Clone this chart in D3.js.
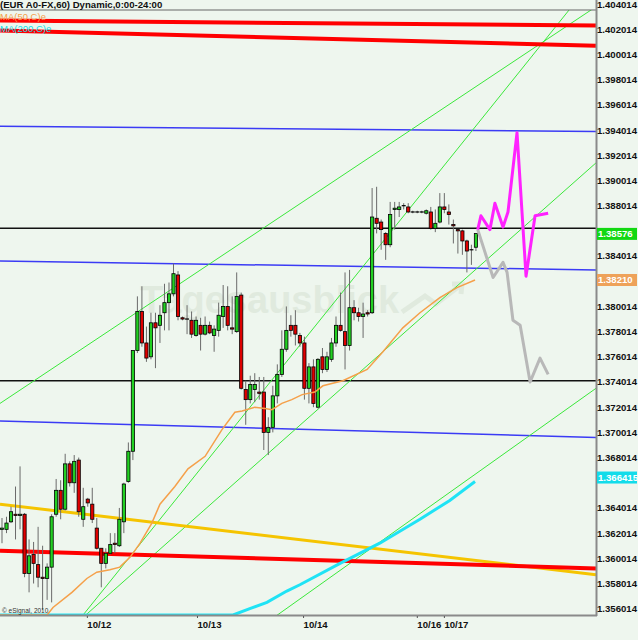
<!DOCTYPE html>
<html>
<head>
<meta charset="utf-8">
<script src="https://cdn.jsdelivr.net/npm/d3@7"></script>
<style>
  body { margin: 0; background: #eef6ee; }
  svg { display: block; font-family: "Liberation Sans", Arial, sans-serif; }
</style>
</head>
<body>
<svg id="chart"></svg>
<script>
// hourly EUR candles
const open  = [1.3623,1.3623,1.3629,1.3635,1.3634,1.3635,1.3588,1.3603,1.3595,1.3585,1.3584,1.3593,1.3635,1.3654,1.3639,1.3675,1.3660,1.3678,1.3631,1.3647,1.3643,1.3624,1.3608,1.3596,1.3604,1.3612,1.3610,1.3629,1.3661,1.3685,1.3765,1.3796,1.3771,1.3760,1.3787,1.3785,1.3795,1.3803,1.3810,1.3825,1.3791,1.3790,1.3789,1.3777,1.3785,1.3778,1.3785,1.3777,1.3781,1.3792,1.3800,1.3783,1.3780,1.3809,1.3734,1.3726,1.3734,1.3732,1.3732,1.3700,1.3704,1.3729,1.3746,1.3766,1.3785,1.3785,1.3777,1.3771,1.3735,1.3752,1.3720,1.3760,1.3750,1.3758,1.3771,1.3785,1.3780,1.3769,1.3799,1.3795,1.3792,1.3795,1.3795,1.3870,1.3867,1.3858,1.3849,1.3877,1.3877,1.3880,1.3879,1.3875,1.3875,1.3875,1.3874,1.3875,1.3862,1.3867,1.3879,1.3875,1.3865,1.3861,1.3860,1.3852,1.3845,1.3847];
const high  = [1.3632,1.3633,1.3641,1.3657,1.3673,1.3636,1.3615,1.3613,1.3625,1.3610,1.3596,1.3635,1.3663,1.3662,1.3683,1.3677,1.3682,1.3680,1.3656,1.3648,1.3656,1.3632,1.3608,1.3608,1.3620,1.3620,1.3640,1.3660,1.3692,1.3765,1.3808,1.3816,1.3784,1.3795,1.3795,1.3801,1.3818,1.3819,1.3834,1.3828,1.3792,1.3801,1.3796,1.3792,1.3791,1.3792,1.3788,1.3785,1.3803,1.3817,1.3816,1.3808,1.3827,1.3811,1.3741,1.3745,1.3747,1.3744,1.3744,1.3712,1.3737,1.3754,1.3781,1.3800,1.3793,1.3797,1.3779,1.3776,1.3755,1.3758,1.3759,1.3767,1.3764,1.3775,1.3792,1.3811,1.3827,1.3829,1.3805,1.3799,1.3803,1.3797,1.3894,1.3895,1.3869,1.3859,1.3883,1.3883,1.3883,1.3882,1.3882,1.3876,1.3876,1.3876,1.3877,1.3879,1.3877,1.3890,1.3890,1.3881,1.3869,1.3861,1.3861,1.3853,1.3849,1.3858];
const low   = [1.3612,1.3620,1.3628,1.3615,1.3623,1.3585,1.3573,1.3580,1.3577,1.3559,1.3567,1.3565,1.3633,1.3631,1.3638,1.3657,1.3652,1.3633,1.3625,1.3641,1.3628,1.3607,1.3577,1.3592,1.3603,1.3604,1.3609,1.3620,1.3660,1.3678,1.3763,1.3768,1.3756,1.3758,1.3751,1.3771,1.3781,1.3781,1.3808,1.3789,1.3789,1.3778,1.3775,1.3776,1.3765,1.3777,1.3778,1.3764,1.3776,1.3783,1.3781,1.3778,1.3779,1.3734,1.3706,1.3723,1.3724,1.3726,1.3686,1.3682,1.3700,1.3723,1.3744,1.3764,1.3776,1.3769,1.3768,1.3726,1.3723,1.3720,1.3719,1.3747,1.3748,1.3756,1.3768,1.3780,1.3750,1.3765,1.3789,1.3788,1.3775,1.3792,1.3794,1.3858,1.3845,1.3837,1.3847,1.3861,1.3871,1.3877,1.3874,1.3874,1.3874,1.3874,1.3873,1.3861,1.3859,1.3866,1.3874,1.3865,1.3850,1.3842,1.3841,1.3827,1.3833,1.3844];
const close = [1.3624,1.3628,1.3637,1.3634,1.3635,1.3588,1.3602,1.3596,1.3585,1.3584,1.3593,1.3633,1.3654,1.3639,1.3675,1.3660,1.3677,1.3637,1.3641,1.3644,1.3631,1.3608,1.3596,1.3604,1.3611,1.3611,1.3631,1.3659,1.3685,1.3765,1.3796,1.3771,1.3759,1.3787,1.3783,1.3793,1.3803,1.3810,1.3826,1.3792,1.3790,1.3790,1.3778,1.3789,1.3778,1.3785,1.3779,1.3782,1.3793,1.3800,1.3785,1.3782,1.3808,1.3735,1.3726,1.3738,1.3738,1.3731,1.3700,1.3704,1.3729,1.3746,1.3766,1.3781,1.3781,1.3778,1.3771,1.3735,1.3752,1.3723,1.3758,1.3750,1.3760,1.3771,1.3785,1.3781,1.3769,1.3799,1.3795,1.3792,1.3794,1.3794,1.3871,1.3866,1.3861,1.3849,1.3873,1.3878,1.3879,1.3880,1.3875,1.3875,1.3875,1.3875,1.3876,1.3862,1.3866,1.3879,1.3877,1.3873,1.3864,1.3860,1.3852,1.3844,1.3845,1.3858];

// moving averages as [bar index, price]
const ma50  = [[-0.44,1.3550],[10.0,1.3553],[11.3,1.3561],[15.5,1.3573],[18.8,1.3584],[21.0,1.3589],[23.9,1.3591],[26.1,1.3593],[28.4,1.3601],[30.6,1.3612],[33.2,1.3628],[35.0,1.3643],[38.3,1.3657],[41.2,1.3671],[45.0,1.3681],[48.7,1.3702],[51.6,1.3716],[53.2,1.3717],[56.0,1.3720],[58.3,1.3719],[59.8,1.3718],[62.0,1.3723],[64.2,1.3726],[66.5,1.3730],[69.3,1.3732],[71.1,1.3737],[75.5,1.3741],[80.9,1.3750],[84.4,1.3764],[88.8,1.3783],[92.6,1.3795],[97.0,1.3807],[100.8,1.3815],[104.8,1.3821]];
const ma200 = [[-0.44,1.3550],[51.2,1.3550],[54.9,1.3560],[58.7,1.3565],[63.1,1.3574],[66.0,1.3579],[74.9,1.3596],[83.7,1.3612],[92.6,1.3631],[99.2,1.3646],[104.8,1.3661]];

// hand drawn projections
const bearPath = [[105.4,1.3861],[108.8,1.3823],[111.0,1.3835],[111.9,1.3827],[113.2,1.3789],[114.8,1.3785],[117.0,1.3740],[119.2,1.3759],[121.0,1.3746]];
const bullPath = [[105.4,1.3861],[106.1,1.3872],[108.1,1.3861],[109.2,1.3882],[111.0,1.3863],[112.1,1.3875],[114.1,1.3938],[116.1,1.3824],[118.1,1.3872],[121.0,1.3874]];

// drawn lines
const redLines    = [[[-0.44,1.4027],[131.6,1.4023]], [[-0.44,1.4019],[131.6,1.4007]], [[-0.44,1.3606],[131.6,1.3592]]];
const blueLines   = [[[-0.44,1.3943],[131.6,1.3939]], [[-0.44,1.3836],[131.6,1.3829]], [[-0.44,1.3709],[131.6,1.3696]]];
const blackLines  = [[[-0.44,1.3862],[131.6,1.3862]], [[-0.44,1.3741],[131.6,1.3741]]];
const yellowLines = [[[-0.44,1.3643],[131.6,1.3587]]];
const greenLines  = [[[-0.44,1.3723],[131.6,1.4038]], [[15.5,1.3544],[131.6,1.4062]], [[15.1,1.3544],[131.6,1.3914]], [[56.7,1.3544],[131.6,1.3735]]];

// axis (labels hidden under the value boxes are left out)
const priceTicks = [1.404014,1.402014,1.400014,1.398014,1.396014,1.394014,1.392014,1.390014,1.388014,1.384014,1.380014,1.378014,1.376014,1.374014,1.372014,1.370014,1.368014,1.364014,1.362014,1.360014,1.358014,1.356014];
const dayTicks  = [18.8, 43.2, 66.7, 91.9, 97.9];
const dayLabels = ["10/12", "10/13", "10/14", "10/16", "10/17"];

const lastLabels = ["1.38576", "1.38210", "1.366415"];
const lastValues = [1.38576, 1.38210, 1.366415];

var width = 638, height = 640;
var plotRight = 596, plotTop = 10, plotBottom = 615;

var x = d3.scaleLinear().domain([-0.44, 131.6]).range([0, plotRight]);
var y = d3.scaleLinear().domain([1.3555, 1.404014]).range([plotBottom, 4]);
var yc = y.copy().clamp(true);

var svg = d3.select("#chart").attr("width", width).attr("height", height);

svg.append("rect").attr("width", width).attr("height", height).attr("fill", "#eef6ee");

svg.append("defs").append("clipPath").attr("id", "plot")
  .append("rect").attr("x", 0).attr("y", plotTop).attr("width", plotRight).attr("height", plotBottom - plotTop);

var plot = svg.append("g").attr("clip-path", "url(#plot)");

// watermark
plot.append("text")
  .attr("x", 140).attr("y", 313)
  .attr("font-size", 38).attr("font-weight", "bold")
  .attr("fill", "#e0eade")
  .text("Tagesausblick");
plot.append("path")
  .attr("d", "M402,312 L425,296 L436,304 L462,284 M452,284 L462,284 L461,294")
  .attr("fill", "none").attr("stroke", "#e0eade").attr("stroke-width", 5);

var line = d3.line().x(d => x(d[0])).y(d => y(d[1]));
var lineC = d3.line().x(d => x(d[0])).y(d => yc(d[1]));

function drawLines(data, color, w) {
  plot.append("g").selectAll("path")
    .data(data)
    .join("path")
      .attr("d", line)
      .attr("fill", "none")
      .attr("stroke", color)
      .attr("stroke-width", w);
}

drawLines(blueLines, "#3b3bf5", 1.5);
drawLines(blackLines, "#111", 1.5);
drawLines(greenLines, "#3be83b", 1);
drawLines(yellowLines, "#f5c400", 3);
drawLines(redLines, "#f00", 4);

// candles
var candles = open.map((o, i) => ({i: i, o: o, h: high[i], l: low[i], c: close[i]}));

var candle = plot.append("g").selectAll("g")
  .data(candles)
  .join("g");

candle.append("line")
  .attr("x1", d => x(d.i)).attr("x2", d => x(d.i))
  .attr("y1", d => y(d.h)).attr("y2", d => y(d.l))
  .attr("stroke", "#6a6a6a").attr("stroke-width", 1);

candle.filter(d => Math.abs(d.c - d.o) >= 0.00005).append("rect")
  .attr("x", d => x(d.i) - 1.6)
  .attr("y", d => y(Math.max(d.o, d.c)))
  .attr("width", 3.2)
  .attr("height", d => Math.max(1, y(Math.min(d.o, d.c)) - y(Math.max(d.o, d.c))))
  .attr("fill", d => d.c > d.o ? "#22d022" : "#e00000")
  .attr("stroke", "#000").attr("stroke-width", 0.8);

candle.filter(d => Math.abs(d.c - d.o) < 0.00005).append("line")
  .attr("x1", d => x(d.i) - 2).attr("x2", d => x(d.i) + 2)
  .attr("y1", d => y(d.c)).attr("y2", d => y(d.c))
  .attr("stroke", "#000").attr("stroke-width", 1.2);

// moving averages
plot.append("path").datum(ma200).attr("d", lineC)
  .attr("fill", "none").attr("stroke", "#1fe3f5").attr("stroke-width", 3);
plot.append("path").datum(ma50).attr("d", lineC)
  .attr("fill", "none").attr("stroke", "#f5a04a").attr("stroke-width", 1.5);

// projections
plot.append("path").datum(bearPath).attr("d", line)
  .attr("fill", "none").attr("stroke", "#b8b8b8").attr("stroke-width", 3).attr("stroke-linejoin", "round");
plot.append("path").datum(bullPath).attr("d", line)
  .attr("fill", "none").attr("stroke", "#ff22ff").attr("stroke-width", 3).attr("stroke-linejoin", "round");

// frame
svg.append("line").attr("x1", 0).attr("x2", plotRight).attr("y1", plotTop).attr("y2", plotTop)
  .attr("stroke", "#666").attr("stroke-width", 1);
svg.append("line").attr("x1", 0).attr("x2", plotRight + 1).attr("y1", plotBottom + 0.5).attr("y2", plotBottom + 0.5)
  .attr("stroke", "#8a8a8a").attr("stroke-width", 2);
svg.append("line").attr("x1", plotRight + 0.5).attr("x2", plotRight + 0.5).attr("y1", 0).attr("y2", plotBottom + 1)
  .attr("stroke", "#8a8a8a").attr("stroke-width", 2);

// price axis
var yAxis = svg.append("g")
  .attr("transform", `translate(${plotRight + 1},0)`)
  .call(d3.axisRight(y).tickValues(priceTicks).tickSize(0).tickPadding(0).tickFormat(d3.format(".6f")));
yAxis.select(".domain").remove();
yAxis.selectAll("text")
  .attr("font-size", 9.6).attr("font-weight", "bold").attr("fill", "#111")
  .attr("font-family", "Liberation Sans, Arial, sans-serif");

// last value boxes
var boxColors = ["#12d812", "#eea25a", "#12dcea"];
var box = svg.append("g").selectAll("g")
  .data(lastValues)
  .join("g")
    .attr("transform", d => `translate(${plotRight + 1},${y(d)})`);
box.append("rect")
  .attr("x", 0).attr("y", -6).attr("width", 40).attr("height", 12)
  .attr("fill", (d, k) => boxColors[k]);
box.append("text")
  .attr("x", 1).attr("dy", "0.35em")
  .attr("font-size", 9.6).attr("font-weight", "bold").attr("fill", "#fff")
  .text((d, k) => lastLabels[k]);

// time axis
var xAxis = svg.append("g")
  .attr("transform", `translate(0,${plotBottom + 1})`)
  .call(d3.axisBottom(x).tickValues(dayTicks).tickSize(2).tickFormat((d, k) => dayLabels[k]));
xAxis.select(".domain").remove();
xAxis.selectAll("line").attr("stroke", "#555");
xAxis.selectAll("text")
  .attr("text-anchor", "start").attr("y", 5)
  .attr("font-size", 9.6).attr("font-weight", "bold").attr("fill", "#111")
  .attr("font-family", "Liberation Sans, Arial, sans-serif");

// titles
svg.append("text").attr("x", 0).attr("y", 8)
  .attr("font-size", 9.6).attr("font-weight", "bold").attr("fill", "#111")
  .text("(EUR A0-FX,60) Dynamic,0:00-24:00");
svg.append("text").attr("x", 0).attr("y", 20)
  .attr("font-size", 9.5).attr("fill", "#f5a04a")
  .text("MA(50,C)e");
svg.append("text").attr("x", 0).attr("y", 32)
  .attr("font-size", 9.5).attr("fill", "#12dcea")
  .text("MA(200,C)e");
svg.append("text").attr("x", 2).attr("y", 613)
  .attr("font-size", 6.5).attr("fill", "#333")
  .text("© eSignal, 2010");
</script>
</body>
</html>
